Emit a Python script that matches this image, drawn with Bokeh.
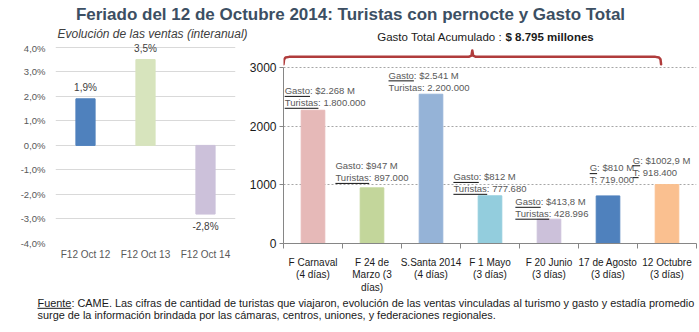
from bokeh.plotting import figure
from bokeh.layouts import column, row
from bokeh.models import FixedTicker, Range1d
from bokeh.core.properties import value
from bokeh.embed import file_html
from bokeh.resources import INLINE

# ---------------- data ----------------
title_text = "Feriado del 12 de Octubre 2014: Turistas con pernocte y Gasto Total"
left_subtitle = "Evolución de las ventas (interanual)"
left_cats = ["F12 Oct 12", "F12 Oct 13", "F12 Oct 14"]
left_vals = [1.9, 3.5, -2.8]
left_val_labels = ["1,9%", "3,5%", "-2,8%"]
left_ticks = [-4, -3, -2, -1, 0, 1, 2, 3, 4]
left_tick_labels = ["-4,0%", "-3,0%", "-2,0%", "-1,0%", "0,0%", "1,0%", "2,0%", "3,0%", "4,0%"]

right_cats = ["F Carnaval\n(4 días)", "F 24 de\nMarzo (3\ndías)", "S.Santa 2014\n(4 días)",
              "F 1 Mayo\n(3 días)", "F 20 Junio\n(3 días)", "17 de Agosto\n(3 días)",
              "12 Octubre\n(3 días)"]
gasto = [2268, 947, 2541, 812, 413.8, 810, 1002.9]
gasto_labels = ["$2.268 M", "$947 M", "$2.541 M", "$812 M", "$413,8 M", "$810 M", "$1002,9 M"]
turistas_labels = ["1.800.000", "897.000", "2.200.000", "777.680", "428.996", "719.000", "918.400"]
gasto_prefix = ["Gasto", "Gasto", "Gasto", "Gasto", "Gasto", "G", "G"]
turistas_prefix = ["Turistas", "Turistas", "Turistas", "Turistas", "Turistas", "T", "T"]
right_ticks = [0, 1000, 2000, 3000]
total_text = "Gasto Total Acumulado :"
total_value = "$ 8.795 millones"
footer_line1 = ("Fuente: CAME. Las cifras de cantidad de turistas que viajaron, evolución de las ventas "
                "vinculadas al turismo y gasto y estadía promedio")
footer_line2 = "surge de la información brindada por las cámaras, centros, uniones, y federaciones regionales."

# ---------------- styles ----------------
left_colors = ["#4f81bd", "#d7e4bd", "#ccc1da"]
right_colors = ["#e6b9b8", "#c3d69b", "#95b3d7", "#93cddd", "#ccc1da", "#4f81bd", "#fac090"]
ann_x = [0.02, 0.88, 1.78, 2.88, 3.93, 5.19, 5.92]        # left edge of annotation (category units)
ann_dy = [7.5, 10, 7, 7, 5.5, 16, 12.5]                    # px above bar top of 2nd line
gasto_ul = [1, 0, 1, 1, 1, 1, 1]
tur_ul = [1, 1, 0, 1, 1, 0, 1]
FONT = "Liberation Sans"
W = 699
TOP_H, MID_H, BOT_H = 42, 253, 37

# ---------------- header (title, subtitle, total) ----------------
pt = figure(width=W, height=TOP_H, x_range=Range1d(0, W), y_range=Range1d(TOP_H, 0),
            output_backend="svg", toolbar_location=None, min_border=0)
pt.axis.visible = False
pt.grid.visible = False
pt.outline_line_color = None
pt.text(x=[350], y=[14], text=[title_text], text_font=value(FONT), text_font_size="17px",
        text_font_style="bold", text_color="#3c4f63", text_align="center", text_baseline="middle")
pt.text(x=[57], y=[33], text=[left_subtitle], text_font=value(FONT), text_font_size="12px",
        text_font_style="italic", text_color="#404040", text_align="left", text_baseline="middle")
pt.text(x=[502], y=[36], text=[total_text], text_font=value(FONT), text_font_size="11.5px",
        text_color="#1a1a1a", text_align="right", text_baseline="middle")
pt.text(x=[505], y=[36], text=[total_value], text_font=value(FONT), text_font_size="11.5px",
        text_font_style="bold", text_color="#1a1a1a", text_align="left", text_baseline="middle")

# ---------------- left chart ----------------
L_PPU = 25.5  # px per 1%
L_BOTTOM = 44
l_frame_h = MID_H - L_BOTTOM
lx = [i + 0.5 for i in range(len(left_cats))]
pl = figure(width=245, height=MID_H, x_range=Range1d(0, 3),
            y_range=Range1d(-4.0, -4.0 + l_frame_h / L_PPU),
            output_backend="svg", toolbar_location=None,
            min_border_left=55, min_border_right=10, min_border_top=0, min_border_bottom=L_BOTTOM)
pl.outline_line_color = None
pl.xgrid.visible = False
pl.ygrid.ticker = FixedTicker(ticks=left_ticks)
pl.ygrid.grid_line_color = "#d9d9d9"
pl.yaxis.ticker = FixedTicker(ticks=left_ticks)
pl.yaxis.major_label_overrides = {t: s for t, s in zip(left_ticks, left_tick_labels)}
pl.xaxis.ticker = FixedTicker(ticks=lx)
pl.xaxis.major_label_overrides = {x: c for x, c in zip(lx, left_cats)}
for ax in (pl.xaxis[0], pl.yaxis[0]):
    ax.axis_line_color = None
    ax.major_tick_line_color = None
    ax.minor_tick_line_color = None
    ax.major_tick_out = 0
    ax.major_tick_in = 0
    ax.major_label_text_font = FONT
    ax.major_label_text_color = "#595959"
pl.yaxis.major_label_text_font_size = "9.5px"
pl.yaxis.major_label_standoff = 10
pl.xaxis.major_label_text_font_size = "10px"
pl.xaxis.major_label_standoff = 5
pl.vbar(x=lx, top=left_vals, bottom=0, width=0.32, color=left_colors)
pos = [(x, v, s) for x, v, s in zip(lx, left_vals, left_val_labels) if v >= 0]
neg = [(x, v, s) for x, v, s in zip(lx, left_vals, left_val_labels) if v < 0]
pl.text(x=[p[0] for p in pos], y=[p[1] for p in pos], text=[p[2] for p in pos], y_offset=-11,
        text_font=value(FONT), text_font_size="10px", text_color="#404040",
        text_align="center", text_baseline="middle")
pl.text(x=[p[0] for p in neg], y=[p[1] for p in neg], text=[p[2] for p in neg], y_offset=12,
        text_font=value(FONT), text_font_size="10px", text_color="#404040",
        text_align="center", text_baseline="middle")

# ---------------- right chart ----------------
R_PPU = 59.33 / 1000.0  # px per unit
R_BOTTOM = 50
r_frame_h = MID_H - R_BOTTOM
n = len(right_cats)
rx = [i + 0.5 for i in range(n)]
pr = figure(width=454, height=MID_H, x_range=Range1d(0, n), y_range=Range1d(0, r_frame_h / R_PPU),
            output_backend="svg", toolbar_location=None,
            min_border_left=38, min_border_right=3, min_border_top=0, min_border_bottom=R_BOTTOM)
pr.outline_line_color = None
pr.xgrid.visible = False
pr.ygrid.ticker = FixedTicker(ticks=[t for t in right_ticks if t > 0])
pr.ygrid.grid_line_color = "#a6a6a6"
pr.ygrid.grid_line_dash = "2 2"
pr.yaxis.ticker = FixedTicker(ticks=right_ticks)
pr.yaxis.bounds = (0, 3000)
pr.yaxis.axis_line_color = "#868686"
pr.yaxis.major_tick_line_color = "#868686"
pr.yaxis.major_tick_out = 4
pr.yaxis.major_tick_in = 0
pr.yaxis.minor_tick_line_color = None
pr.yaxis.major_label_standoff = 3
pr.yaxis.major_label_text_font = FONT
pr.yaxis.major_label_text_font_size = "12px"
pr.yaxis.major_label_text_color = "#1a1a1a"
pr.xaxis.ticker = FixedTicker(ticks=rx, minor_ticks=list(range(n + 1)))
pr.xaxis.major_label_overrides = {x: c for x, c in zip(rx, right_cats)}
pr.xaxis.axis_line_color = "#868686"
pr.xaxis.major_tick_line_color = None
pr.xaxis.major_tick_out = 0
pr.xaxis.major_tick_in = 0
pr.xaxis.minor_tick_line_color = "#868686"
pr.xaxis.minor_tick_out = 5
pr.xaxis.minor_tick_in = 0
pr.xaxis.major_label_standoff = 8
pr.xaxis.major_label_text_font = FONT
pr.xaxis.major_label_text_font_size = "10px"
pr.xaxis.major_label_text_color = "#1a1a1a"
pr.xaxis.major_label_text_line_height = 1.15
pr.vbar(x=rx, top=gasto, bottom=0, width=0.4, color=right_colors)

# annotations
ANN_FS = 9.5
ax_per_px = 1.0 / 59.0
line1 = [f"{p}: {g}" for p, g in zip(gasto_prefix, gasto_labels)]
line2 = [f"{p}: {t}" for p, t in zip(turistas_prefix, turistas_labels)]
pr.text(x=ann_x, y=gasto, text=line1, y_offset=[-(d + 12) for d in ann_dy],
        text_font=value(FONT), text_font_size=f"{ANN_FS}px", text_color="#595959",
        text_align="left", text_baseline="middle")
pr.text(x=ann_x, y=gasto, text=line2, y_offset=[-d for d in ann_dy],
        text_font=value(FONT), text_font_size=f"{ANN_FS}px", text_color="#595959",
        text_align="left", text_baseline="middle")
em = {"Gasto": 2.668, "Turistas": 3.556, "G": 0.778, "T": 0.611}
x0s, x1s, ys = [], [], []
for i in range(n):
    for flag, word, dy in ((gasto_ul[i], gasto_prefix[i], ann_dy[i] + 12),
                           (tur_ul[i], turistas_prefix[i], ann_dy[i])):
        if flag:
            x0s.append(ann_x[i])
            x1s.append(ann_x[i] + em[word] * ANN_FS * ax_per_px)
            ys.append(gasto[i] + (dy - 5.5) / R_PPU)
pr.segment(x0=x0s, y0=ys, x1=x1s, y1=ys, line_color="#111111", line_width=1)

# bracket
b_left, b_right = 0.0, 6.4
b_mid = (b_left + b_right) / 2
by = 3000 + 10.5 / R_PPU
b_end = 3000 + 3 / R_PPU
b_top = 3000 + 17 / R_PPU
r = 0.06
bx = [b_left, b_left + 0.01, b_left + 0.035, b_left + r * 1.6, b_mid - r, b_mid - 0.015, b_mid,
      b_mid + 0.015, b_mid + r, b_right - r * 1.6, b_right - 0.035, b_right - 0.01, b_right]
bys = [b_end, by - 2.5 / R_PPU, by - 0.7 / R_PPU, by, by, by + 1.2 / R_PPU, b_top,
       by + 1.2 / R_PPU, by, by, by - 0.7 / R_PPU, by - 2.5 / R_PPU, b_end]
pr.line(bx, bys, line_color="#b03c3c", line_width=2.5, line_join="round", line_cap="round")

# ---------------- footer ----------------
pf = figure(width=W, height=BOT_H, x_range=Range1d(0, W), y_range=Range1d(BOT_H, 0),
            output_backend="svg", toolbar_location=None, min_border=0)
pf.axis.visible = False
pf.grid.visible = False
pf.outline_line_color = None
FOOT_FS = 10.9
pf.text(x=[37, 37], y=[7, 19], text=[footer_line1, footer_line2], text_font=value(FONT),
        text_font_size=f"{FOOT_FS}px", text_color="#1a1a1a", text_align="left",
        text_baseline="middle")
fu = 3.113 * FOOT_FS
pf.segment(x0=[37], y0=[12.8], x1=[37 + fu], y1=[12.8], line_color="#1a1a1a", line_width=1)

layout = column(pt, row(pl, pr, spacing=0), pf, spacing=0)
open("out.html", "w").write(file_html(layout, INLINE))
